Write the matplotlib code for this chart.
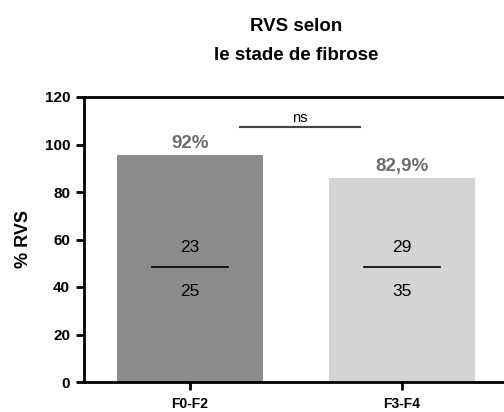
import matplotlib.pyplot as plt

plt.rcParams['font.family'] = ['Liberation Sans', 'DejaVu Sans']

groups = ['F0-F2', 'F3-F4']
bar_heights = [95.5, 86]
pct_labels = ['92%', '82,9%']
responders = [23, 29]
totals = [25, 35]
bar_colors = ['#8c8c8c', '#d4d4d4']
yticks = [0, 20, 40, 60, 80, 100, 120]

fig = plt.figure(figsize=(5.04, 4.12), dpi=100)
ax = fig.add_axes([84 / 504, 30 / 412, 424 / 504, 285 / 412])

x = [0, 1]
ax.bar(x, bar_heights, width=0.685, color=bar_colors, zorder=2)

for xi, h, lab in zip(x, bar_heights, pct_labels):
    ax.text(xi, h + 1.2, lab, ha='center', va='bottom', fontsize=13.5,
            fontweight='bold', color='#6d6d6d')

for xi, n, d in zip(x, responders, totals):
    ax.plot([xi - 0.18, xi + 0.18], [48.4, 48.4], color='black', lw=1.2, zorder=3)
    ax.text(xi, 56.5, str(n), ha='center', va='center', fontsize=12.5)
    ax.text(xi, 38, str(d), ha='center', va='center', fontsize=12.5)

# significance bar
ax.plot([0.236, 0.80], [107.2, 107.2], color='#444444', lw=1.5, clip_on=False)
ax.text(0.518, 108.3, 'ns', ha='center', va='bottom', fontsize=10.5)

ax.set_xlim(-0.5, 1.5)
ax.set_ylim(0, 120)
ax.set_yticks(yticks)
ax.set_xticks(x)
ax.set_xticklabels(groups, fontweight='bold', fontsize=10)
for lab in ax.get_yticklabels():
    lab.set_fontweight('bold')
    lab.set_fontsize(11)

for s in ['left', 'top', 'bottom', 'right']:
    ax.spines[s].set_linewidth(2)
ax.tick_params(width=2, length=6, direction='out', pad=4)
ax.tick_params(axis='x', pad=5)

ax.set_ylabel('% RVS', fontweight='bold', fontsize=13, labelpad=9)
ax.set_title('RVS selon\nle stade de fibrose', fontweight='bold', fontsize=13.5,
             linespacing=1.85, pad=27)

fig.savefig('out.png', dpi=100)
